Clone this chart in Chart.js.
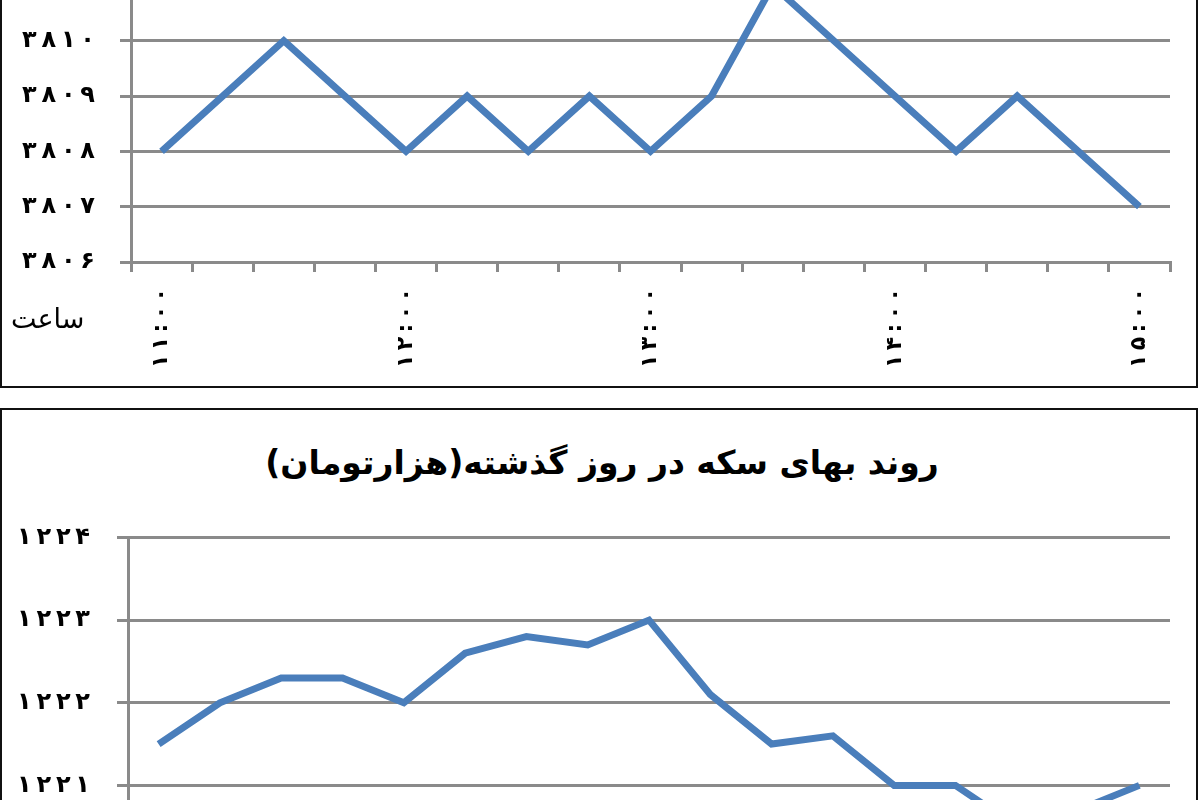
<!DOCTYPE html>
<html>
<head>
<meta charset="utf-8">
<script src="https://cdn.jsdelivr.net/npm/chart.js@4/dist/chart.umd.min.js"></script>
<style>
  html, body { margin: 0; padding: 0; background: #fff; overflow: hidden; width: 1200px; height: 800px; }
  .box { position: absolute; left: 0; width: 1194px; border: 2px solid #111; }
  #box1 { top: -60px; height: 444px; }
  #box2 { top: 408px; height: 600px; }
  canvas { position: absolute; left: 0; }
  #dollar { top: -54px; }
  #coin { top: 420px; }
  .hour { position: absolute; left: 11px; top: 303px; font: 27px "DejaVu Sans", sans-serif; color: #000; direction: rtl; }
  .title { position: absolute; left: 0; width: 1204px; top: 443px; text-align: center; direction: rtl;
           font: bold 33px "DejaVu Sans", sans-serif; color: #000; }
</style>
</head>
<body>
<div class="box" id="box1"></div>
<div class="box" id="box2"></div>
<canvas id="dollar" width="1198" height="426"></canvas>
<span class="hour">ساعت</span>
<div class="title">روند بهای سکه در روز گذشته(هزارتومان)</div>
<canvas id="coin" width="1198" height="558"></canvas>
<script>
// time of day, every 15 minutes
const timeLabels = [
  '۱۱:۰۰', '۱۱:۱۵', '۱۱:۳۰', '۱۱:۴۵',
  '۱۲:۰۰', '۱۲:۱۵', '۱۲:۳۰', '۱۲:۴۵',
  '۱۳:۰۰', '۱۳:۱۵', '۱۳:۳۰', '۱۳:۴۵',
  '۱۴:۰۰', '۱۴:۱۵', '۱۴:۳۰', '۱۴:۴۵',
  '۱۵:۰۰'
];
const dollarPrices = [3808, 3809, 3810, 3809, 3808, 3809, 3808, 3809, 3808, 3809, 3811, 3810, 3809, 3808, 3809, 3808, 3807];
const coinPrices = [1221.5, 1222, 1222.3, 1222.3, 1222, 1222.6, 1222.8, 1222.7, 1223, 1222.1, 1221.5, 1221.6, 1221, 1221, 1220.5, 1220.7, 1221];
const dollarRange = [3806, 3811];
const coinRange = [1220, 1224];

const faDigits = '۰۱۲۳۴۵۶۷۸۹';
const toFa = v => String(v).replace(/\d/g, d => faDigits[d]);
// the original labels are set with wide gaps between the digits
const spaced = s => [...s].join('\u2009');

const gray = '#8a8a8a';
const lineBlue = '#4a7ebb';
const tickFont = { family: 'DejaVu Sans', weight: 'bold', size: 24 };

function makeChart(id, values, range, opts) {
  return new Chart(document.getElementById(id), {
    type: 'line',
    data: {
      labels: timeLabels,
      datasets: [{
        data: values,
        borderColor: lineBlue,
        borderWidth: 7,
        pointRadius: 0,
        tension: 0,
        fill: false
      }]
    },
    options: {
      responsive: false,
      animation: false,
      layout: { padding: { top: opts.top, right: 28, left: 0, bottom: 0 } },
      plugins: { legend: { display: false }, tooltip: { enabled: false } },
      scales: {
        x: {
          offset: true,
          grid: { offset: true, drawOnChartArea: false, color: gray, lineWidth: 3, tickLength: 10, tickWidth: 3 },
          border: { color: gray, width: 3 },
          ticks: {
            autoSkip: false, minRotation: 90, maxRotation: 90, padding: 16,
            color: '#000', font: { family: 'DejaVu Sans', weight: 'bold', size: 22 },
            callback: (v, i) => i % 4 === 0 ? spaced(timeLabels[i]) : ''
          },
          afterFit: s => { s.height = 110; }
        },
        y: {
          min: range[0],
          max: range[1],
          grid: { color: gray, lineWidth: 3, tickLength: 11, tickWidth: 3 },
          border: { color: gray, width: 3 },
          ticks: { stepSize: 1, padding: opts.pad, color: '#000', font: tickFont, callback: v => spaced(toFa(v)) },
          afterFit: s => { s.width = opts.left; }
        }
      }
    }
  });
}

makeChart('dollar', dollarPrices, dollarRange, { top: 10, left: 131, pad: 25 });
makeChart('coin', coinPrices, coinRange, { top: 117.5, left: 128, pad: 27 });
</script>
</body>
</html>
